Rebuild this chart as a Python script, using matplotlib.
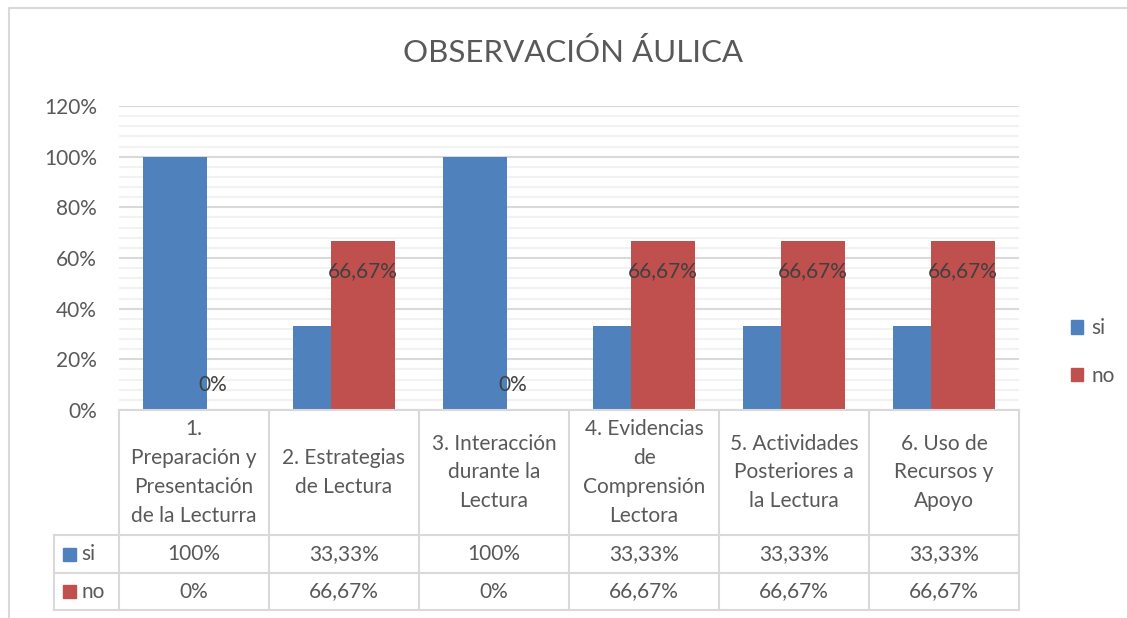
import numpy as np
import matplotlib
matplotlib.use('Agg')
import matplotlib.pyplot as plt
from matplotlib.patches import Patch, Rectangle
from matplotlib.lines import Line2D

# ── Data ────────────────────────────────────────────────────────────────
categories = ['1.\nPreparación y\nPresentación\nde la Lecturra',
              '2. Estrategias\nde Lectura',
              '3. Interacción\ndurante la\nLectura',
              '4. Evidencias\nde\nComprensión\nLectora',
              '5. Actividades\nPosteriores a\nla Lectura',
              '6. Uso de\nRecursos y\nApoyo']
si = [1.0, 0.3333, 1.0, 0.3333, 0.3333, 0.3333]
no = [0.0, 0.6667, 0.0, 0.6667, 0.6667, 0.6667]
series_names = ['si', 'no']
yticks = [0, 0.2, 0.4, 0.6, 0.8, 1.0, 1.2]

BLUE = '#4f81bd'
RED = '#c0504d'
TXT = '#595959'
GRID = '#d9d9d9'
FS = 15

plt.rcParams['font.family'] = ['Lato', 'DejaVu Sans']

W, H = 1127, 618


def fx(px):
    return px / W


def fy(py):
    return 1 - py / H


def pct(v):
    s = f'{v * 100:.2f}'.replace('.', ',')
    if s.endswith(',00'):
        s = s[:-3]
    return s + '%'


fig = plt.figure(figsize=(W / 100, H / 100), dpi=100)

# plot area
x0, x1, ytop, ybot = 119, 1019, 106, 410
ax = fig.add_axes([fx(x0), fy(ybot), fx(x1 - x0), (ybot - ytop) / H])

x = np.arange(len(categories))
bw = 0.4267
off = 0.1267
ax.bar(x - off, si, bw, color=BLUE, zorder=3)
ax.bar(x + off, no, bw, color=RED, zorder=4)

# data labels for "no"
for xi, v in zip(x, no):
    dy = -30 if v > 0 else 25
    ax.annotate(pct(v), (xi + off, v), textcoords='offset pixels', xytext=(0, dy),
                ha='center', va='center', fontsize=FS, color='#404040', zorder=6)

ax.set_xlim(-0.5, len(categories) - 0.5)
ax.set_ylim(0, 1.2)
ax.set_yticks(yticks)
ax.set_yticklabels([pct(t) for t in yticks])
ax.set_yticks(np.arange(0, 1.2001, 0.04), minor=True)
ax.tick_params(axis='y', which='both', length=0, labelsize=FS, labelcolor=TXT, pad=16)
ax.set_xticks([])
ax.grid(axis='y', which='major', color=GRID, linewidth=1.5, zorder=0)
ax.grid(axis='y', which='minor', color='#f2f2f2', linewidth=1.5, zorder=0)
ax.set_axisbelow(True)
for s in ax.spines.values():
    s.set_visible(False)

# ── Data table ──────────────────────────────────────────────────────────
col_w = (x1 - x0) / len(categories)
r_head, r_si, r_no, r_end = 410, 535, 573, 610
lab_x = 54


def hline(y, xa, xb):
    fig.add_artist(Line2D([fx(xa), fx(xb)], [fy(y), fy(y)], color=GRID, lw=1.5))


def vline(xp, ya, yb):
    fig.add_artist(Line2D([fx(xp), fx(xp)], [fy(ya), fy(yb)], color=GRID, lw=1.5))


hline(r_head, x0, x1)
for yy in (r_si, r_no, r_end):
    hline(yy, lab_x, x1)
for k in range(len(categories) + 1):
    vline(x0 + k * col_w, r_head, r_end)
vline(lab_x, r_si, r_end)

for k, cat in enumerate(categories):
    cx = x0 + (k + 0.5) * col_w
    fig.text(fx(cx), fy((r_head + r_si) / 2), cat, ha='center', va='center',
             fontsize=FS, color=TXT, linespacing=1.55)
    fig.text(fx(cx), fy((r_si + r_no) / 2), pct(si[k]), ha='center', va='center',
             fontsize=FS, color=TXT)
    fig.text(fx(cx), fy((r_no + r_end) / 2), pct(no[k]), ha='center', va='center',
             fontsize=FS, color=TXT)

for name, col, (ya, yb) in zip(series_names, [BLUE, RED], [(r_si, r_no), (r_no, r_end)]):
    cy = (ya + yb) / 2
    fig.add_artist(Rectangle((fx(63), fy(cy + 6.5)), fx(13), 13 / H, color=col,
                             transform=fig.transFigure))
    fig.text(fx(81), fy(cy), name, ha='left', va='center', fontsize=FS, color=TXT)

# ── Legend ──────────────────────────────────────────────────────────────
handles = [Patch(color=BLUE), Patch(color=RED)]
fig.legend(handles, series_names, loc='center left', bbox_to_anchor=(fx(1052), fy(352)),
           frameon=False, fontsize=FS, labelcolor=TXT, handlelength=0.6,
           handleheight=0.6, handletextpad=0.4, labelspacing=1.3)

# ── Title and chart border ──────────────────────────────────────────────
fig.text(fx(573), fy(52), 'OBSERVACIÓN ÁULICA', ha='center', va='center',
         fontsize=22.5, color=TXT)
fig.add_artist(Line2D([fx(9), fx(9), fx(W)], [0, fy(8), fy(8)], color=GRID, lw=1.5))

fig.savefig('out.png', dpi=100)
